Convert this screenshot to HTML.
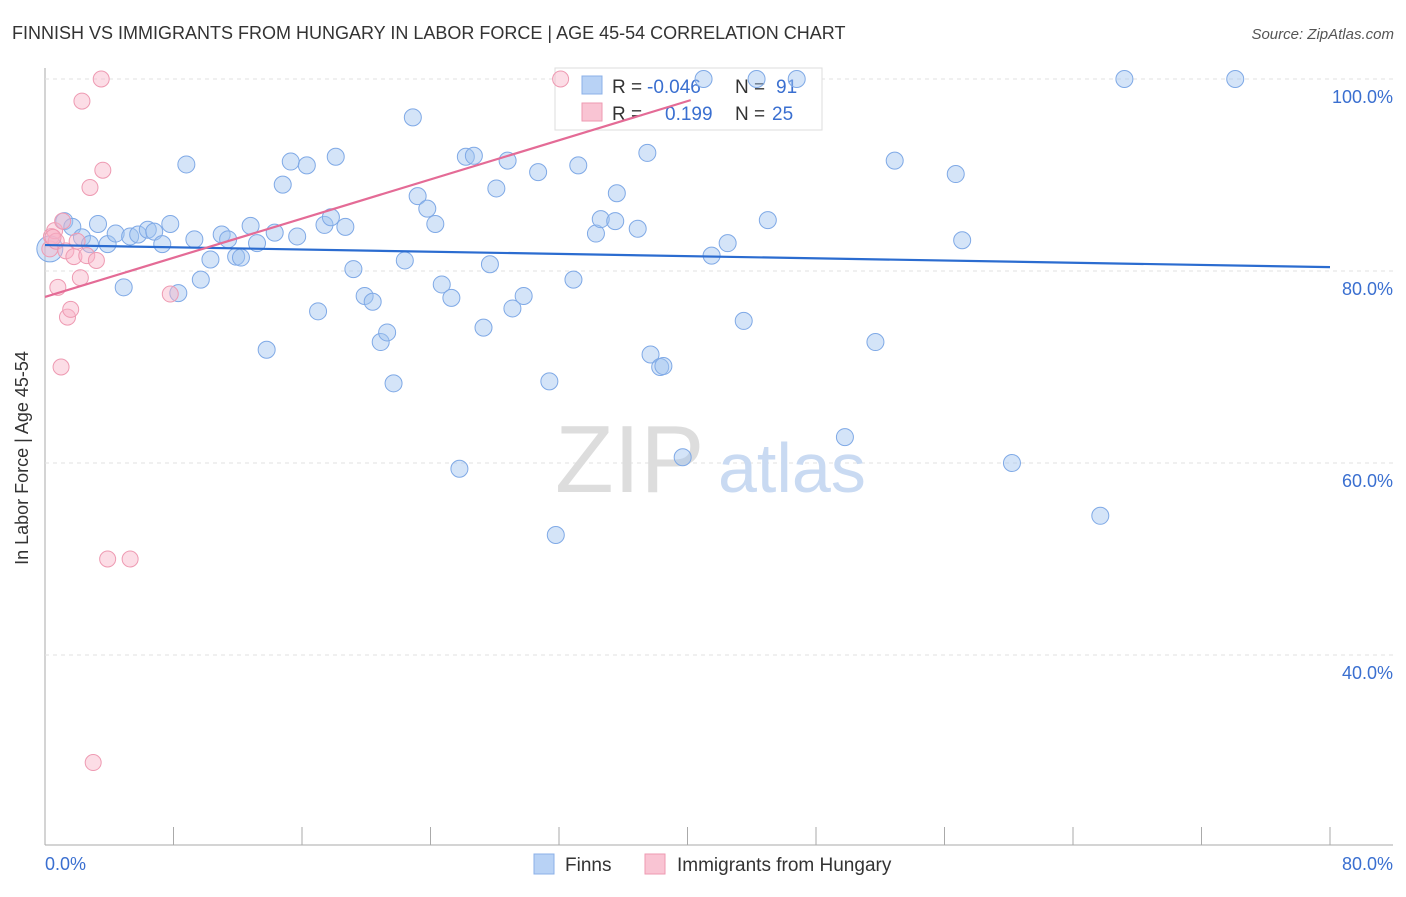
<!DOCTYPE html>
<html><head><meta charset="utf-8"><style>
body{margin:0;background:#fff;font-family:"Liberation Sans",sans-serif}
svg text{font-family:"Liberation Sans",sans-serif}
</style></head><body>
<svg width="1406" height="892">
<text x="12" y="39" font-size="18" fill="#333">FINNISH VS IMMIGRANTS FROM HUNGARY IN LABOR FORCE | AGE 45-54 CORRELATION CHART</text>
<text x="1394" y="39" font-size="15" fill="#555" text-anchor="end" font-style="italic">Source: ZipAtlas.com</text>
<g id="grid"></g>
<text x="555" y="492" font-size="96" fill="#ddd" font-family="Liberation Serif">ZIP</text>
<text x="718" y="492" font-size="70" fill="#c9daf2">atlas</text>
<g>
<rect x="555" y="68" width="267" height="62" fill="#fff" stroke="#ddd"/>
<rect x="582" y="76" width="20" height="18" fill="#b8d2f5" stroke="#8bb0e8"/>
<rect x="582" y="103" width="20" height="18" fill="#f9c4d3" stroke="#ee9ab2"/>
<text x="612" y="93" font-size="19" fill="#333">R =</text>
<text x="647" y="93" font-size="19" fill="#3a6fd0">-0.046</text>
<text x="735" y="93" font-size="19" fill="#333">N =</text>
<text x="776" y="93" font-size="19" fill="#3a6fd0">91</text>
<text x="612" y="120" font-size="19" fill="#333">R =</text>
<text x="665" y="120" font-size="19" fill="#3a6fd0">0.199</text>
<text x="735" y="120" font-size="19" fill="#333">N =</text>
<text x="772" y="120" font-size="19" fill="#3a6fd0">25</text>
</g>
<g id="pts"></g>
<g id="lines"></g>
<text x="28" y="458" font-size="18" fill="#333" text-anchor="middle" transform="rotate(-90 28 458)">In Labor Force | Age 45-54</text>
<text x="45" y="870" font-size="18" fill="#3a6fd0">0.0%</text>
<text x="1393" y="870" font-size="18" fill="#3a6fd0" text-anchor="end">80.0%</text>
<g>
<rect x="534" y="854" width="20" height="20" fill="#b8d2f5" stroke="#8bb0e8"/>
<text x="565" y="871" font-size="19" fill="#333">Finns</text>
<rect x="645" y="854" width="20" height="20" fill="#f9c4d3" stroke="#ee9ab2"/>
<text x="677" y="871" font-size="19" fill="#333">Immigrants from Hungary</text>
</g>
</svg>
<script>
const yTicks=[100,80,60,40];
const yTickLabels=["100.0%","80.0%","60.0%","40.0%"];
const xTicks=[0,8,16,24,32,40,48,56,64,72,80];
const finnsX=[0.3,1.2,1.7,2.3,2.8,3.3,3.9,4.4,4.9,5.3,5.8,6.4,6.8,7.3,7.8,8.3,8.8,9.3,9.7,10.3,11.0,11.4,11.9,12.2,12.8,13.2,13.8,14.3,14.8,15.3,15.7,16.3,17.0,17.4,17.8,18.1,18.7,19.2,19.9,20.4,20.9,21.3,21.7,22.4,22.9,23.2,23.8,24.3,24.7,25.3,25.8,26.2,26.7,27.3,27.7,28.1,28.8,29.1,29.8,30.7,31.4,31.8,32.9,33.2,34.3,34.6,35.5,35.6,36.9,37.5,37.7,38.3,38.5,39.7,41.0,41.5,42.5,43.5,44.3,45.0,46.8,49.8,51.7,52.9,56.7,57.1,60.2,65.7,67.2,74.1];
const finnsY=[82.3,85.2,84.6,83.5,82.8,84.9,82.8,83.9,78.3,83.6,83.8,84.3,84.1,82.8,84.9,77.7,91.1,83.3,79.1,81.2,83.8,83.3,81.5,81.4,84.7,82.9,71.8,84.0,89.0,91.4,83.6,91.0,75.8,84.8,85.6,91.9,84.6,80.2,77.4,76.8,72.6,73.6,68.3,81.1,96.0,87.8,86.5,84.9,78.6,77.2,59.4,91.9,92.0,74.1,80.7,88.6,91.5,76.1,77.4,90.3,68.5,52.5,79.1,91.0,83.9,85.4,85.2,88.1,84.4,92.3,71.3,70.0,70.1,60.6,100,81.6,82.9,74.8,100,85.3,100,62.7,72.6,91.5,90.1,83.2,60.0,54.5,100,100];
const hunX=[0.3,0.4,0.6,0.7,0.8,1.0,1.1,1.3,1.4,1.6,1.8,2.0,2.2,2.3,2.6,2.8,3.0,3.2,3.5,3.6,3.9,5.3,7.8,32.1,0.5];
const hunY=[82.3,83.6,84.2,83.1,78.3,70.0,85.2,82.1,75.2,76.0,81.5,83.1,79.3,97.7,81.6,88.7,28.8,81.1,100,90.5,50.0,50.0,77.6,100,83.5];
const finnsLine=[82.7,80.4];
const hunLine=[77.3,97.8]; const hunLineEnd=40.2;
const X=v=>45+v/80*1285, Y=v=>79+(100-v)*9.6;
const NS="http://www.w3.org/2000/svg";
function mk(t,a,p){const e=document.createElementNS(NS,t);for(const k in a)e.setAttribute(k,a[k]);p.appendChild(e);return e;}
const g=document.getElementById('grid');
mk('line',{x1:45,y1:68,x2:45,y2:845,stroke:'#aaa'},g);
mk('line',{x1:45,y1:845,x2:1393,y2:845,stroke:'#aaa'},g);
yTicks.forEach((t,i)=>{
 const l=mk('line',{x1:45,y1:Y(t),x2:1393,y2:Y(t),stroke:'#e2e2e2','stroke-dasharray':'4,4'},g);
 
 
 const tx=mk('text',{x:1393,y:Y(t)+24,'font-size':18,fill:'#3a6fd0','text-anchor':'end'},g);
 tx.textContent=yTickLabels[i];
 
 
});
xTicks.forEach(t=>{
 const l=mk('line',{x1:X(t),y1:827,x2:X(t),y2:845,stroke:'#aaa'},g);
 
 
});
const p=document.getElementById('pts');
finnsX.forEach((x,i)=>{
 const c=mk('circle',{cx:X(x),cy:Y(finnsY[i]),r:i==0?13:8.5,fill:'rgba(160,195,240,0.45)',stroke:'#7fa9e6','stroke-width':1},p);
 
 
});
hunX.forEach((x,i)=>{
 const c=mk('circle',{cx:X(x),cy:Y(hunY[i]),r:8,fill:'rgba(248,180,200,0.45)',stroke:'#ee9ab2','stroke-width':1},p);
 
 
});
const L=document.getElementById('lines');
const b=mk('line',{x1:X(0),y1:Y(finnsLine[0]),x2:X(80),y2:Y(finnsLine[1]),stroke:'#2b6cd0','stroke-width':2.2},L);


const h=mk('line',{x1:X(0),y1:Y(hunLine[0]),x2:X(hunLineEnd),y2:Y(hunLine[1]),stroke:'#e46b96','stroke-width':2.2},L);


</script>
</body></html>
